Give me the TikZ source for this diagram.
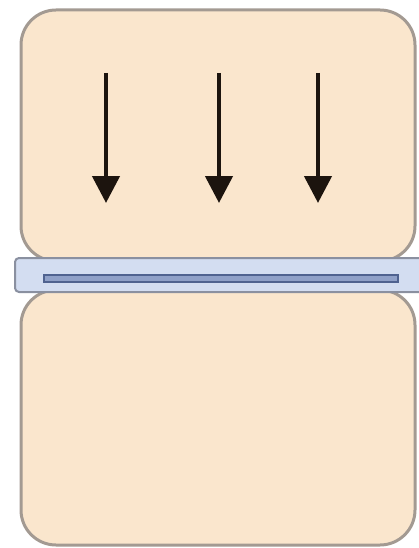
\documentclass[tikz,border=0pt]{standalone}
\usetikzlibrary{arrows.meta}
\definecolor{blockfill}{HTML}{FAE6CD}
\definecolor{blockedge}{HTML}{A39A92}
\definecolor{barfill}{HTML}{D3DDF1}
\definecolor{baredge}{HTML}{8A90A0}
\definecolor{slotedge}{HTML}{4F6290}
\definecolor{slotfill}{HTML}{8FA0C8}
\definecolor{arrowink}{HTML}{1C140E}
\tikzset{
  block/.style={draw=blockedge, fill=blockfill, line width=3pt, rounded corners=35pt},
  plate/.style={draw=baredge, fill=barfill, line width=2pt, rounded corners=4pt},
  slot/.style={draw=slotedge, fill=slotfill, line width=2pt},
  force/.style={draw=arrowink, line width=4.5pt, -{Triangle[length=27pt,width=27pt]}}
}
\begin{document}
\begin{tikzpicture}[x=1pt,y=-1pt]
  \useasboundingbox (0,0) rectangle (419,548);
  \clip (0,0) rectangle (419,548);
  % upper and lower blocks
  \draw[block] (21,10) rectangle (415,261);
  \draw[block] (21,290) rectangle (415,545);
  % plate between the blocks, with its slot
  \draw[plate] (15,258) rectangle (428,292);
  \draw[slot] (44,275) rectangle (398,282);
  % applied force
  \foreach \x/\n in {106/a,219/b,318/c} {
    \coordinate (s\n) at (\x,73);
    \coordinate (e\n) at (\x,203);
    \draw[force] (s\n) -- (e\n);
  }
\end{tikzpicture}
\end{document}
